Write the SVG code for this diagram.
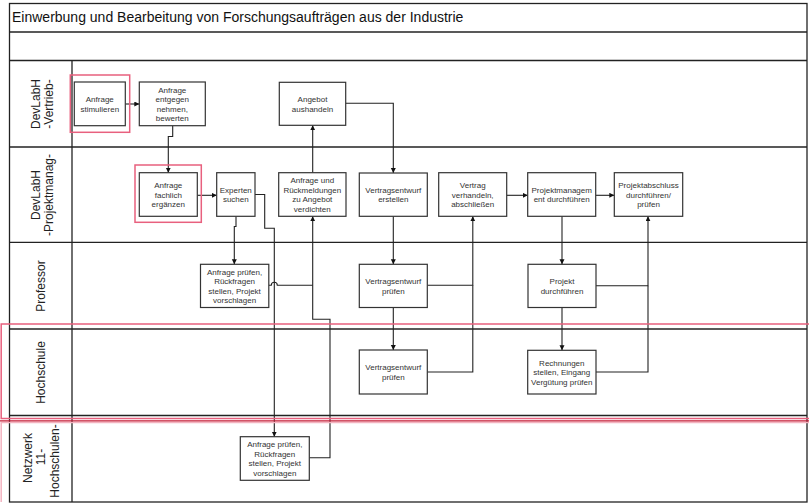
<svg xmlns="http://www.w3.org/2000/svg" width="809" height="503" viewBox="0 0 809 503">
<style>
.frame{fill:none;stroke:#222;stroke-width:1.3}
.box{fill:#fff;stroke:#333;stroke-width:1.2}
.t{font-family:"Liberation Sans",Arial,sans-serif;font-size:8px;fill:#333;text-anchor:middle}
.lane{font-family:"Liberation Sans",Arial,sans-serif;font-size:12px;fill:#222;text-anchor:middle}
.title{font-family:"Liberation Sans",Arial,sans-serif;font-size:14px;fill:#111}
.c{fill:none;stroke:#222;stroke-width:1.1}
.hl{fill:none;stroke:#e8607e;stroke-width:1.5}
</style>
<defs>
<marker id="arr" markerUnits="userSpaceOnUse" markerWidth="6" markerHeight="6" refX="5" refY="2.5" orient="auto">
<path d="M0,0 L5,2.5 L0,5 z" fill="#111"/>
</marker>
</defs>
<rect width="809" height="503" fill="#fff"/>

<g id="pool">
<rect class="frame" x="9.5" y="3.5" width="797.5" height="498.5"/>
<line class="frame" x1="9.5" y1="32" x2="807" y2="32"/>
<line class="frame" x1="9.5" y1="60.5" x2="807" y2="60.5"/>
<line class="frame" x1="72" y1="60.5" x2="72" y2="502"/>
<line class="frame" x1="9.5" y1="147" x2="807" y2="147"/>
<line class="frame" x1="9.5" y1="242.3" x2="807" y2="242.3"/>
<line class="frame" x1="9.5" y1="329" x2="807" y2="329"/>
<line class="frame" x1="9.5" y1="415.5" x2="807" y2="415.5"/>
<text class="title" x="12" y="22">Einwerbung und Bearbeitung von Forschungsaufträgen aus der Industrie</text>
</g>

<g id="lane-labels">
<text class="lane" transform="translate(39.5,104) rotate(-90)">DevLabH</text>
<text class="lane" transform="translate(53,104) rotate(-90)">-Vertrieb-</text>
<text class="lane" transform="translate(39.5,195) rotate(-90)">DevLabH</text>
<text class="lane" transform="translate(53,195) rotate(-90)">-Projektmanag-</text>
<text class="lane" transform="translate(45,286) rotate(-90)">Professor</text>
<text class="lane" transform="translate(45,372.5) rotate(-90)">Hochschule</text>
<text class="lane" transform="translate(31.5,458) rotate(-90)">Netzwerk</text>
<text class="lane" transform="translate(45,457) rotate(-90)">11-</text>
<text class="lane" transform="translate(59,461) rotate(-90)">Hochschulen-</text>
</g>

<g id="connectors">
<path class="c" d="M125.3,104 H139.3" marker-end="url(#arr)"/>
<path class="c" d="M172.7,125.7 V136.5 H168.3 V172.7" marker-end="url(#arr)"/>
<path class="c" d="M197.3,195.3 H216.7" marker-end="url(#arr)"/>
<path class="c" d="M236,216.3 V226.5 H234.3 V264.3" marker-end="url(#arr)"/>
<path class="c" d="M255,194.5 H264.7 V228.3 H274.3 V436.7" marker-end="url(#arr)"/>
<path class="c" d="M268.8,285.3 H271.3 A3,3 0 0 1 277.3,285.3 H312.7"/>
<path class="c" d="M309.3,457.7 H330 V319.3 H312.7 V216.3" marker-end="url(#arr)"/>
<path class="c" d="M312.7,172.7 V125.3" marker-end="url(#arr)"/>
<path class="c" d="M345.7,103.3 H393.3 V173" marker-end="url(#arr)"/>
<path class="c" d="M393.3,216.3 V264.3" marker-end="url(#arr)"/>
<path class="c" d="M393.3,307.5 V350" marker-end="url(#arr)"/>
<path class="c" d="M427.3,285.3 H472.8 V216.3" marker-end="url(#arr)"/>
<path class="c" d="M427.3,372 H472.8 V285.3"/>
<path class="c" d="M506.7,195.3 H527.7" marker-end="url(#arr)"/>
<path class="c" d="M595.7,195.3 H614.3" marker-end="url(#arr)"/>
<path class="c" d="M562,216.3 V264.3" marker-end="url(#arr)"/>
<path class="c" d="M562,307.5 V350.3" marker-end="url(#arr)"/>
<path class="c" d="M596,285.7 H648 V216.3" marker-end="url(#arr)"/>
<path class="c" d="M596,372 H648 V285.7"/>
</g>

<g id="n1"><rect class="box" x="74.3" y="82" width="51" height="43.7"/>
<text class="t" x="99.8" y="102.2">Anfrage</text><text class="t" x="99.8" y="111.6">stimulieren</text></g>
<g id="n2"><rect class="box" x="139.3" y="82" width="66" height="43.7"/>
<text class="t" x="172.3" y="93">Anfrage</text><text class="t" x="172.3" y="102.4">entgegen</text><text class="t" x="172.3" y="111.8">nehmen,</text><text class="t" x="172.3" y="121.2">bewerten</text></g>
<g id="n3"><rect class="box" x="279.3" y="82.3" width="66.4" height="43"/>
<text class="t" x="312.5" y="102.2">Angebot</text><text class="t" x="312.5" y="111.6">aushandeln</text></g>
<g id="n4"><rect class="box" x="139.3" y="172.7" width="58" height="43.6"/>
<text class="t" x="168.3" y="188.1">Anfrage</text><text class="t" x="168.3" y="197.5">fachlich</text><text class="t" x="168.3" y="206.9">ergänzen</text></g>
<g id="n5"><rect class="box" x="216.7" y="172.7" width="38.3" height="43.6"/>
<text class="t" x="235.8" y="192.8">Experten</text><text class="t" x="235.8" y="202.2">suchen</text></g>
<g id="n6"><rect class="box" x="278.7" y="172.7" width="67.3" height="43.6"/>
<text class="t" x="312.3" y="183.4">Anfrage und</text><text class="t" x="312.3" y="192.8">Rückmeldungen</text><text class="t" x="312.3" y="202.2">zu Angebot</text><text class="t" x="312.3" y="211.6">verdichten</text></g>
<g id="n7"><rect class="box" x="359.3" y="173" width="68" height="43.3"/>
<text class="t" x="393.3" y="192.8">Vertragsentwurf</text><text class="t" x="393.3" y="202.2">erstellen</text></g>
<g id="n8"><rect class="box" x="438.7" y="172.7" width="68" height="43.6"/>
<text class="t" x="472.7" y="188.1">Vertrag</text><text class="t" x="472.7" y="197.5">verhandeln,</text><text class="t" x="472.7" y="206.9">abschließen</text></g>
<g id="n9"><rect class="box" x="527.7" y="172.7" width="68" height="43.6"/>
<text class="t" x="561.7" y="192.8">Projektmanagem</text><text class="t" x="561.7" y="202.2">ent durchführen</text></g>
<g id="n10"><rect class="box" x="614.3" y="172.7" width="68.4" height="43.6"/>
<text class="t" x="648.5" y="188.1">Projektabschluss</text><text class="t" x="648.5" y="197.5">durchführen/</text><text class="t" x="648.5" y="206.9">prüfen</text></g>
<g id="n11"><rect class="box" x="200.5" y="264.3" width="68.3" height="43.2"/>
<text class="t" x="234.6" y="274.7">Anfrage prüfen,</text><text class="t" x="234.6" y="284.1">Rückfragen</text><text class="t" x="234.6" y="293.5">stellen, Projekt</text><text class="t" x="234.6" y="302.9">vorschlagen</text></g>
<g id="n12"><rect class="box" x="359.3" y="264.3" width="68" height="43.2"/>
<text class="t" x="393.3" y="284.2">Vertragsentwurf</text><text class="t" x="393.3" y="293.6">prüfen</text></g>
<g id="n13"><rect class="box" x="528" y="264.3" width="68" height="43.2"/>
<text class="t" x="562" y="284.2">Projekt</text><text class="t" x="562" y="293.6">durchführen</text></g>
<g id="n14"><rect class="box" x="359.3" y="350" width="68" height="44"/>
<text class="t" x="393.3" y="370.3">Vertragsentwurf</text><text class="t" x="393.3" y="379.7">prüfen</text></g>
<g id="n15"><rect class="box" x="527.7" y="350.3" width="68.3" height="43.7"/>
<text class="t" x="561.8" y="365.7">Rechnungen</text><text class="t" x="561.8" y="375.1">stellen, Eingang</text><text class="t" x="561.8" y="384.5">Vergütung prüfen</text></g>
<g id="n16"><rect class="box" x="240.3" y="436.7" width="69" height="43.6"/>
<text class="t" x="274.8" y="447.3">Anfrage prüfen,</text><text class="t" x="274.8" y="456.7">Rückfragen</text><text class="t" x="274.8" y="466.1">stellen, Projekt</text><text class="t" x="274.8" y="475.5">vorschlagen</text></g>

<g id="highlights">
<rect class="hl" x="70.3" y="75" width="59.4" height="57.3"/>
<rect class="hl" x="135" y="165" width="66.3" height="57.3"/>
<rect class="hl" x="1.2" y="324" width="830" height="94.5"/>
<path d="M1.2,502 V422.5 H809" fill="none" stroke="#f3b3c0" stroke-width="1.5"/>
<line x1="0" y1="420.8" x2="809" y2="420.8" stroke="#c41a34" stroke-width="1.3"/>
</g>
</svg>
